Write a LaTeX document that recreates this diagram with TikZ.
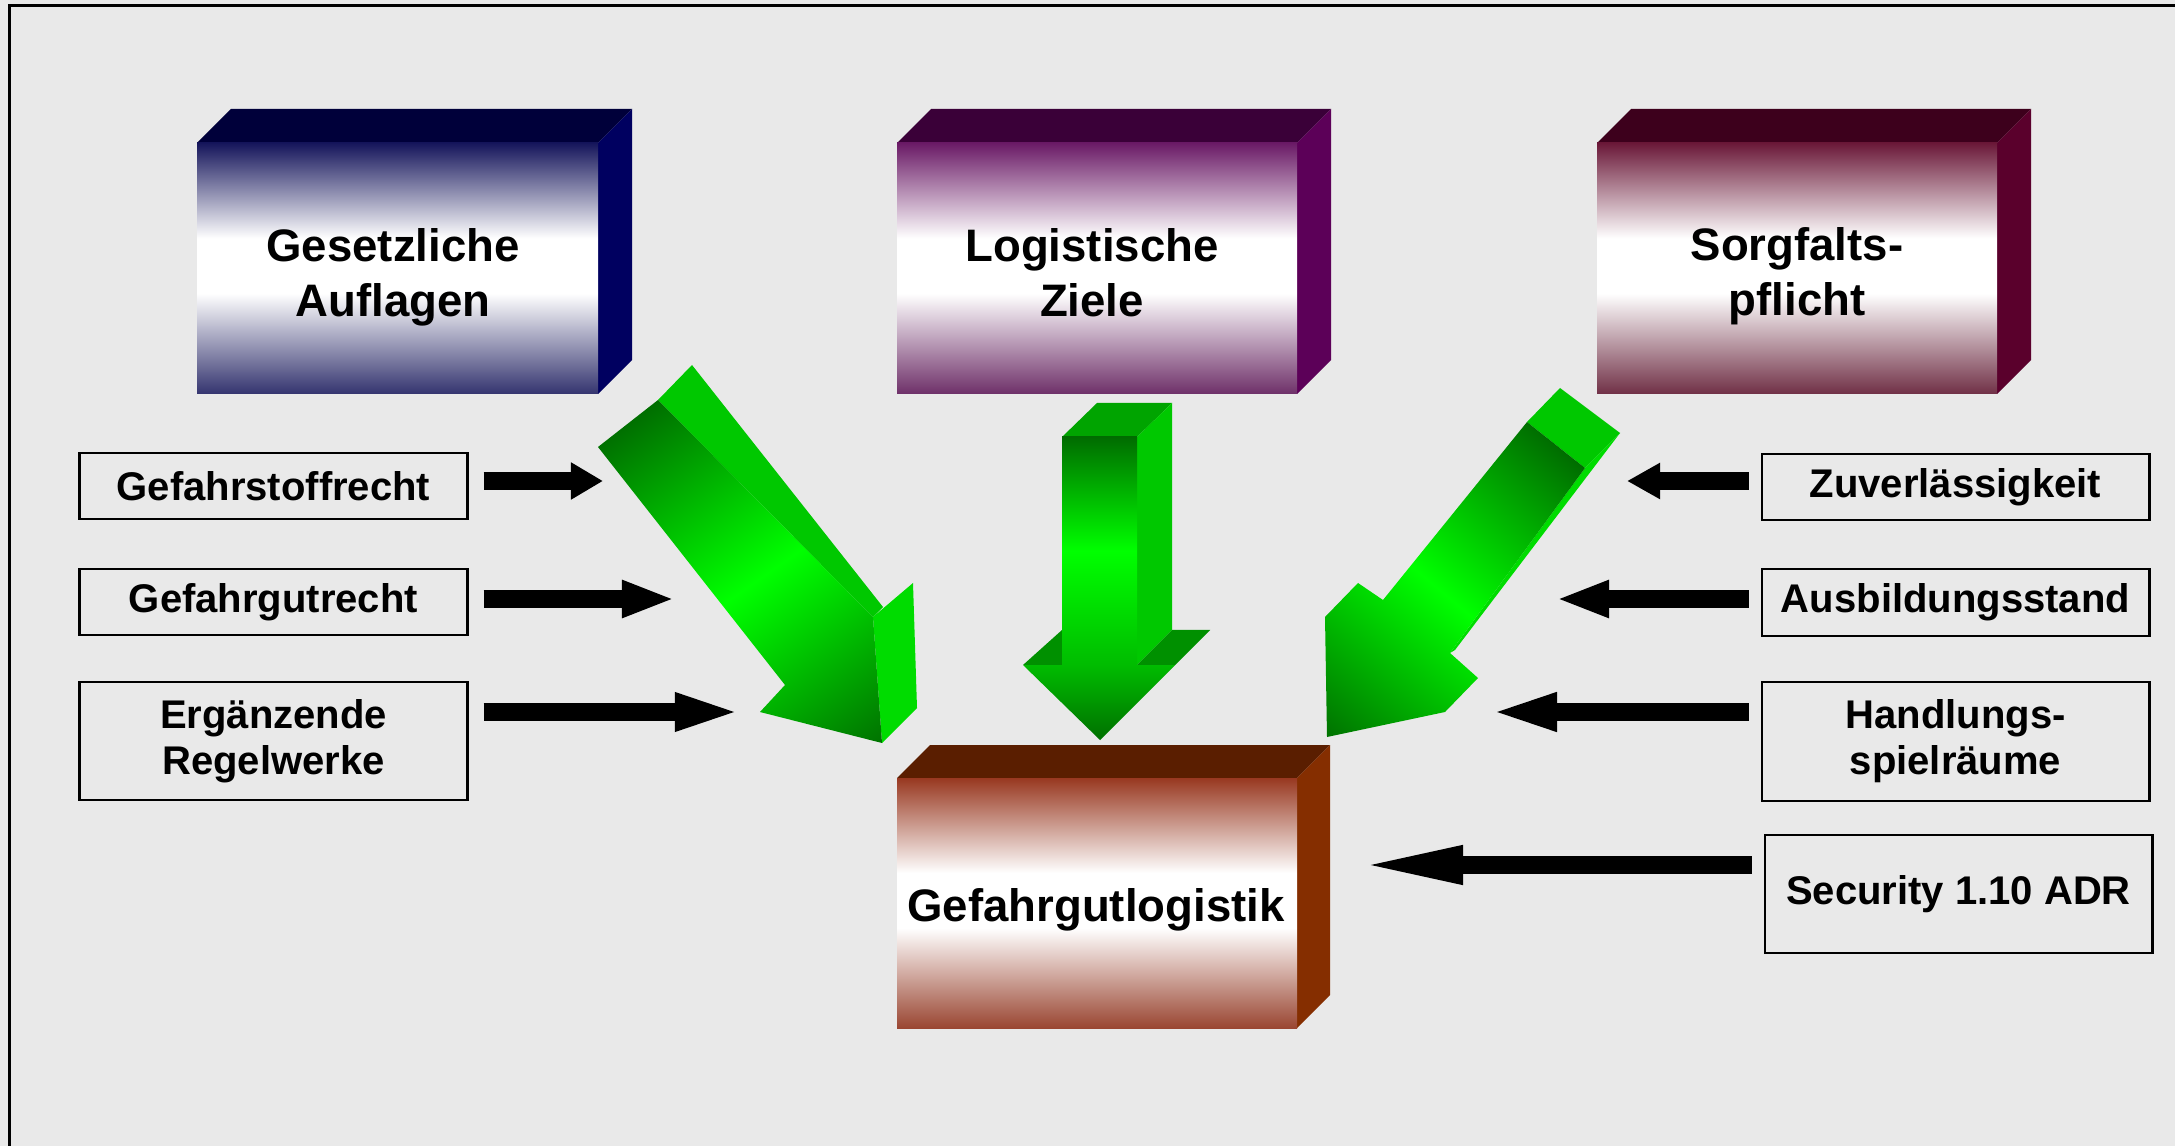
\documentclass[tikz,border=0pt]{standalone}
\usepackage{fontspec}
\setmainfont{Liberation Sans}
\usetikzlibrary{arrows.meta}

% background and frame
\definecolor{canvas}{HTML}{E9E9E9}
% solid boxes: top face, side face, front face (upper / lower end of the gradient)
\definecolor{navyTop}{HTML}{00003A}
\definecolor{navySide}{HTML}{000060}
\definecolor{navyHi}{HTML}{15155B}
\definecolor{navyLo}{HTML}{34346F}
\definecolor{plumTop}{HTML}{3A0038}
\definecolor{plumSide}{HTML}{5C0058}
\definecolor{plumHi}{HTML}{6A1A66}
\definecolor{plumLo}{HTML}{6E3069}
\definecolor{wineTop}{HTML}{3D001C}
\definecolor{wineSide}{HTML}{5A002C}
\definecolor{wineHi}{HTML}{6A1838}
\definecolor{wineLo}{HTML}{703046}
\definecolor{rustTop}{HTML}{5A1E00}
\definecolor{rustSide}{HTML}{852E00}
\definecolor{rustHi}{HTML}{983820}
\definecolor{rustLo}{HTML}{9A4632}
% green block arrows
\definecolor{gBright}{HTML}{00FF00}
\definecolor{gDark}{HTML}{006C00}
\definecolor{gDeep}{HTML}{007000}
\definecolor{gSide}{HTML}{00C800}
\definecolor{gPanel}{HTML}{00DC00}
\definecolor{gCap}{HTML}{00A400}
\definecolor{gWing}{HTML}{009000}
\definecolor{gHead}{HTML}{00BC00}

% front faces: dark at the edges, a broad white band in the middle
\pgfdeclareverticalshading{faceNavy}{100bp}{color(0bp)=(navyLo); color(25bp)=(navyLo); color(45bp)=(white); color(56bp)=(white); color(75bp)=(navyHi); color(100bp)=(navyHi)}
\pgfdeclareverticalshading{facePlum}{100bp}{color(0bp)=(plumLo); color(25bp)=(plumLo); color(45bp)=(white); color(56bp)=(white); color(75bp)=(plumHi); color(100bp)=(plumHi)}
\pgfdeclareverticalshading{faceWine}{100bp}{color(0bp)=(wineLo); color(25bp)=(wineLo); color(45bp)=(white); color(56bp)=(white); color(75bp)=(wineHi); color(100bp)=(wineHi)}
\pgfdeclareverticalshading{faceRust}{100bp}{color(0bp)=(rustLo); color(25bp)=(rustLo); color(45bp)=(white); color(56bp)=(white); color(75bp)=(rustHi); color(100bp)=(rustHi)}

% #1,#2 upper left and #3,#4 lower right corner of the front face,
% #5 top colour, #6 side colour, #7 front shading, #8 depth
\newcommand\solidbox[8]{%
  \fill[#5] (#1,#2) -- (#1+#8,#2-#8) -- (#3+#8,#2-#8) -- (#3,#2) -- cycle;
  \fill[#6] (#3,#2) -- (#3+#8,#2-#8) -- (#3+#8,#4-#8) -- (#3,#4) -- cycle;
  \shade[shading=#7] (#1,#2) rectangle (#3,#4);
}

\begin{document}
\begin{tikzpicture}[x=0.01cm, y=-0.01cm,
  title/.style={font=\fontsize{12.95pt}{15.65pt}\selectfont\bfseries, align=center, inner sep=0pt},
  tagbox/.style={draw=black, line width=0.028cm, fill=none, minimum width=3.87cm,
    font=\fontsize{11.38pt}{13.1pt}\selectfont\bfseries, align=center, inner sep=0pt},
  blk/.style={black, line width=0.18cm},
]
\useasboundingbox (0,0) rectangle (2175,1146);
\clip (0,0) rectangle (2175,1146);
\fill[canvas] (0,0) rectangle (2175,1146);
\draw[line width=0.03cm] (9.5,1300) -- (9.5,5.3) -- (2300,5.3);

% three source blocks and the target block
\solidbox{197}{143}{598}{394}{navyTop}{navySide}{faceNavy}{34}
\solidbox{897}{143}{1297}{394}{plumTop}{plumSide}{facePlum}{34}
\solidbox{1597}{143}{1997}{394}{wineTop}{wineSide}{faceWine}{34}
\solidbox{897}{778}{1297}{1028}{rustTop}{rustSide}{faceRust}{33}

\node[title] (gesetz) at (393,277) {Gesetzliche\\Auflagen};
\node[title] (logziel) at (1092,273) {Logistische\\Ziele};
\node[title] (sorgfalt) at (1797,276) {Sorgfalts-\\pflicht};
\node[title, anchor=base] (gglog) at (1096,921) {Gefahrgutlogistik};

% green arrow, upper left block to target
\fill[gSide] (658,400) -- (692,365) -- (883,607) -- (873,617) -- cycle;
\fill[gPanel] (873,617) -- (913,583) -- (917,708) -- (882,743) -- cycle;
\begin{scope}
  \clip (598,447) -- (658,400) -- (873,617) -- (882,743) -- (760,712) -- (785,685) -- cycle;
  \begin{scope}[transform canvas={rotate around={35:(740,571)}}]
    \shade[top color=gDark, bottom color=gDeep, middle color=gBright]
      (440,381) rectangle (1040,796);
  \end{scope}
\end{scope}

% green arrow, middle block to target
\fill[gCap] (1062,437) -- (1097,403) -- (1172,403) -- (1137,437) -- cycle;
\fill[gSide] (1137,437) -- (1172,403) -- (1172,630) -- (1137,665) -- cycle;
\shade[top color=gHead, bottom color=gDeep] (1023,665) -- (1175,665) -- (1100,740) -- cycle;
\fill[gWing] (1175,665) -- (1210,630) -- (1100,740) -- cycle;
\fill[gWing] (1023,665) -- (1062,630) -- (1062,665) -- cycle;
\fill[gWing] (1137,665) -- (1172,630) -- (1210,630) -- (1175,665) -- cycle;
\shade[top color=gDark, bottom color=gHead, middle color=gBright]
  (1062,437) rectangle (1137,665);

% green arrow, upper right block to target
\fill[gSide] (1527,422) -- (1560,388) -- (1620,433) -- (1585,468) -- cycle;
\fill[gPanel] (1585,468) -- (1620,433) -- (1455,650) -- (1450,653) -- cycle;
\begin{scope}
  \clip (1527,422) -- (1585,468) -- (1450,653) -- (1478,678) -- (1445,712) -- (1327,737)
    -- (1325,617) -- (1358,583) -- (1383,600) -- cycle;
  \begin{scope}[transform canvas={rotate around={-40:(1455,580)}}]
    \shade[top color=gDark, bottom color=gDeep, middle color=gBright]
      (1155,410) rectangle (1755,785);
  \end{scope}
\end{scope}

% influences on the left
\node[tagbox, minimum height=0.66cm] (stoff) at (273.5,486) {Gefahrstoffrecht};
\node[tagbox, minimum height=0.66cm] (gut) at (273.5,602) {Gefahrgutrecht};
\node[tagbox, minimum height=1.18cm] (regel) at (273.5,741) {Ergänzende\\Regelwerke};

% influences on the right
\node[tagbox, minimum height=0.66cm] (zuver) at (1955.5,487) {Zuverlässigkeit};
\node[tagbox, minimum height=0.67cm] (ausb) at (1955.5,602.5) {Ausbildungsstand};
\node[tagbox, minimum height=1.19cm] (handl) at (1955.5,741.5) {Handlungs-\\spielräume};
\node[tagbox, minimum height=1.18cm] (secu) at (1958.5,894) {Security 1.10 ADR};

% arrow ends
\coordinate (tipStoff) at (603,481);
\coordinate (tipGut) at (675,599);
\coordinate (tipRegel) at (745,712);
\coordinate (tipZuver) at (1627,481);
\coordinate (tipAusb) at (1556,599);
\coordinate (tipHandl) at (1485,712);
\coordinate (tipSecu) at (1355,865);

\draw[blk, -{Triangle[length=0.32cm, width=0.35cm]}] (stoff.east |- tipStoff) ++(15,0) -- (tipStoff);
\draw[blk, -{Triangle[length=0.53cm, width=0.34cm]}] (gut.east |- tipGut) ++(15,0) -- (tipGut);
\draw[blk, -{Triangle[length=0.70cm, width=0.33cm]}] (regel.east |- tipRegel) ++(15,0) -- (tipRegel);

\draw[blk, -{Triangle[length=0.33cm, width=0.34cm]}] (zuver.west |- tipZuver) ++(-12,0) -- (tipZuver);
\draw[blk, -{Triangle[length=0.53cm, width=0.34cm]}] (ausb.west |- tipAusb) ++(-12,0) -- (tipAusb);
\draw[blk, -{Triangle[length=0.72cm, width=0.33cm]}] (handl.west |- tipHandl) ++(-12,0) -- (tipHandl);
\draw[blk, -{Triangle[length=1.08cm, width=0.34cm]}] (secu.west |- tipSecu) ++(-12,0) -- (tipSecu);
\end{tikzpicture}
\end{document}
